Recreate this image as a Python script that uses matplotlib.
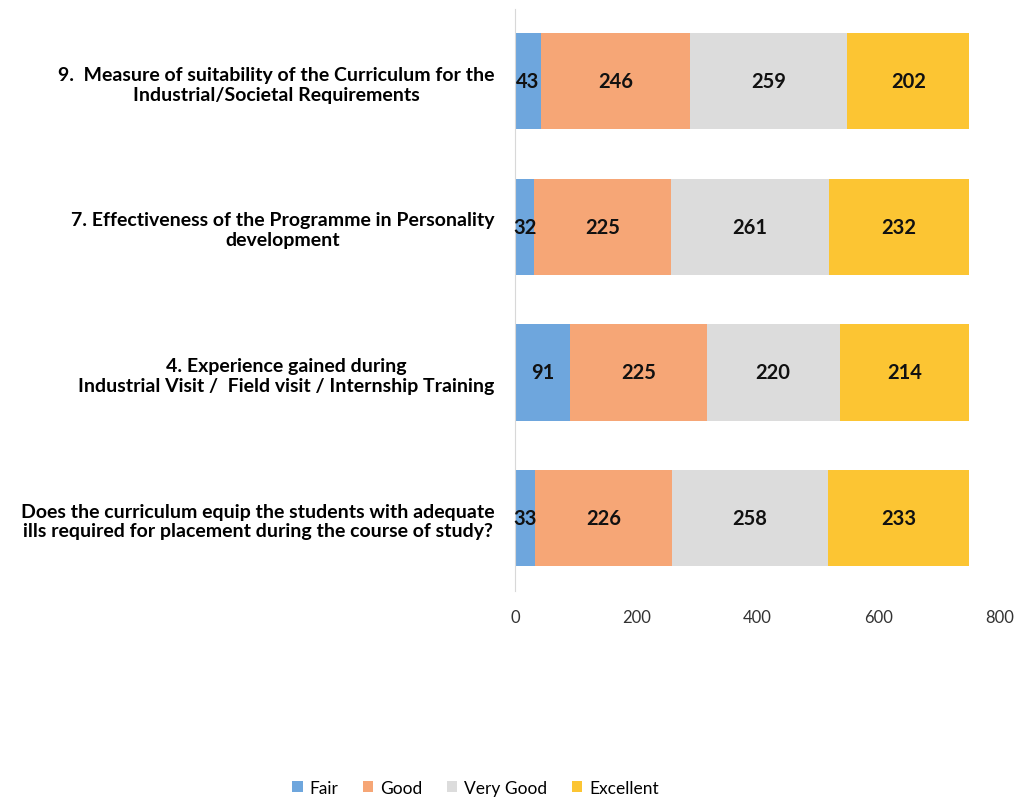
import numpy as np
import matplotlib.pyplot as plt

plt.rcParams['font.family'] = ['Lato', 'DejaVu Sans']

questions = [
    "Does the curriculum equip the students with adequate\nills required for placement during the course of study?",
    "4. Experience gained during\nIndustrial Visit /  Field visit / Internship Training",
    "7. Effectiveness of the Programme in Personality\ndevelopment",
    "9.  Measure of suitability of the Curriculum for the\nIndustrial/Societal Requirements",
]
fair = [33, 91, 32, 43]
good = [226, 225, 225, 246]
very_good = [258, 220, 261, 259]
excellent = [233, 214, 232, 202]

series = ["Fair", "Good", "Very Good", "Excellent"]
colors = ['#6ea6dd', '#f6a676', '#dcdcdc', '#fcc533']

fig = plt.figure(figsize=(10.18, 8.03), dpi=100)
ax = fig.add_axes([0.506, 0.263, 0.476, 0.725])

y = np.arange(len(questions))
left = np.zeros(len(questions))
for name, vals, c in zip(series, [fair, good, very_good, excellent], colors):
    vals = np.array(vals)
    ax.barh(y, vals, left=left, height=0.66, color=c, label=name)
    for yi, l, v in zip(y, left, vals):
        ax.text(l + v / 2, yi, str(v), ha='center', va='center',
                fontsize=14.5, fontweight='bold', color='#111111')
    left += vals

ax.set_xlim(0, 800)
ax.set_ylim(-0.5, 3.5)
ax.set_xticks([0, 200, 400, 600, 800])
ax.set_yticks(y)
ax.set_yticklabels(questions, fontsize=14, fontweight='bold', ha='right',
                   multialignment='center')
ax.tick_params(axis='y', length=0, pad=15)
ax.tick_params(axis='x', length=0, pad=13, labelsize=12, labelcolor='#333333')
for s in ['top', 'right', 'bottom']:
    ax.spines[s].set_visible(False)
ax.spines['left'].set_color('#d8d8d8')

fig.legend(loc='lower center', bbox_to_anchor=(0.467, -0.012), ncol=4, frameon=False,
           fontsize=12.5, handlelength=0.6, handleheight=0.6, handletextpad=0.4,
           columnspacing=1.4)

fig.savefig('out.png', dpi=100)
